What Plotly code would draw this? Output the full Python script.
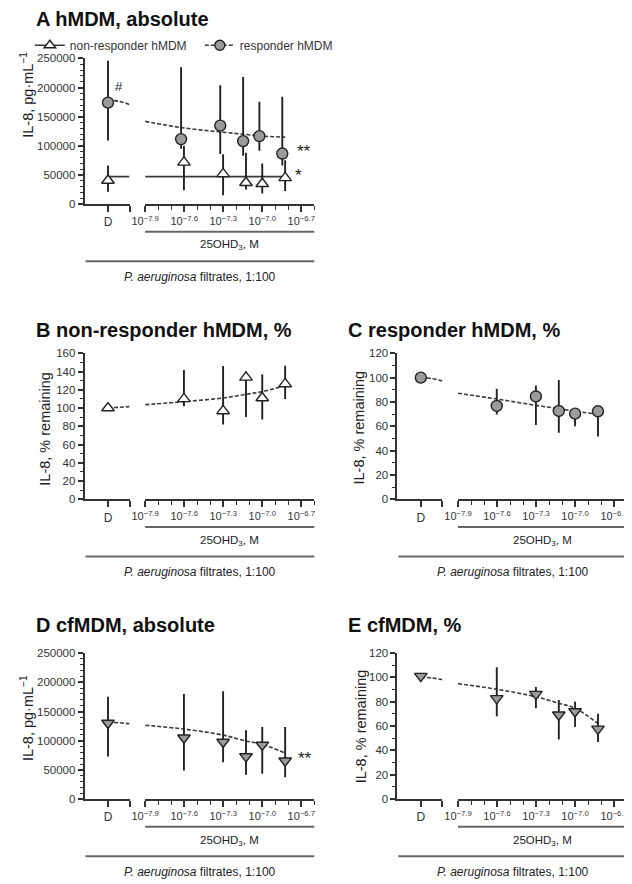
import plotly.graph_objects as go

W, H = 632, 884
OFF = 8  # default page body margin of the html page

# ---------------- data ----------------
dose_log = [-7.602, -7.301, -7.125, -7.0, -6.824]        # 25, 50, 75, 100, 150 nM
fit_log = [-7.9, -7.602, -7.301, -7.125, -7.0, -6.824]
fit_D_x = [1.0, 1.46, 1.92]
D_x = [1.0]
conc_tickvals = [-7.9, -7.6, -7.3, -7.0, -6.7]
conc_ticktext = ["10<sup>−7.9</sup>", "10<sup>−7.6</sup>", "10<sup>−7.3</sup>",
                 "10<sup>−7.0</sup>", "10<sup>−6.7</sup>"]

# Panel A: hMDM absolute (pg/mL)
a_non_D, a_non_D_hi, a_non_D_lo = [40500], [66000], [21000]
a_non = [71500, 51800, 36600, 34900, 45000]
a_non_hi = [100000, 85600, 88000, 69800, 75000]
a_non_lo = [23600, 15200, 25000, 18000, 22500]
a_non_fit_D = [47000, 47000, 47000]
a_non_fit = [47000, 47000, 47000, 47000, 47000, 47000]
a_res_D, a_res_D_hi, a_res_D_lo = [174000], [246000], [109000]
a_res = [111500, 134600, 108000, 116600, 86700]
a_res_hi = [234800, 203800, 218000, 175700, 184100]
a_res_lo = [95000, 85800, 83000, 91400, 66000]
a_res_fit_D = [178000, 176500, 171000]
a_res_fit = [141900, 130600, 123300, 119400, 116600, 114900]

# Panel B: non-responder hMDM, % remaining
b_D = [100]
b = [110, 96.8, 133.6, 111, 126.4]
b_hi = [141.6, 146, 140, 137, 146.3]
b_lo = [101.9, 82, 90.3, 87.4, 110]
b_fit_D = [100.3, 100.8, 101.5]
b_fit = [103.7, 107, 111, 115, 118, 124.6]

# Panel C: responder hMDM, % remaining
c_D = [100]
c = [76.7, 84.5, 72.6, 70.4, 72.3]
c_hi = [90.8, 93.5, 98, 74.5, 74]
c_lo = [69.6, 61, 54.7, 60.1, 51.5]
c_fit_D = [100, 99.2, 97.3]
c_fit = [87.2, 82.4, 77.2, 74.5, 72.3, 69.9]

# Panel D: cfMDM absolute (pg/mL)
d_D, d_D_hi, d_D_lo = [130300], [175300], [73000]
d = [105000, 97800, 73000, 92700, 65700]
d_hi = [179800, 184800, 118000, 123600, 123600]
d_lo = [48900, 62900, 41600, 43300, 37600]
d_fit_D = [131500, 130800, 129000]
d_fit = [126400, 120000, 109600, 99400, 93800, 78700]

# Panel E: cfMDM, % remaining
e_D = [101.1]
e = [82.8, 86.3, 69.3, 72, 57.7]
e_hi = [108.4, 92.2, 81.4, 80.1, 70.1]
e_lo = [68, 74.7, 49, 59.3, 46.9]
e_fit_D = [100.3, 99.6, 98.2]
e_fit = [94.9, 90.3, 84.1, 78.8, 74.7, 62]

# ---------------- style ----------------
FONT = "Arial, Liberation Sans, sans-serif"
AX = "#333333"
FITC = "#3a3a3a"
GRAYFILL = "#9b9b9b"
FW, FH = W - OFF, H - OFF


def px(x):
    return (x - OFF) / FW


def py(y):
    return 1 - (y - OFF) / FH


fig = go.Figure()

panels = {
    "A": dict(left=72, top=53, bottom=200.7, ymax=250000, dtick=50000, minor=10000),
    "B": dict(left=72, top=352, bottom=500, ymax=160, dtick=20, minor=10),
    "C": dict(left=392, top=352, bottom=500, ymax=120, dtick=20, minor=10),
    "D": dict(left=72, top=656, bottom=804, ymax=250000, dtick=50000, minor=10000),
    "E": dict(left=392, top=656, bottom=804, ymax=120, dtick=20, minor=10),
}
order = ["A", "B", "C", "D", "E"]
layout_axes = {}
for i, k in enumerate(order):
    p = panels[k]
    xd = 2 * i + 1
    xc = 2 * i + 2
    yi = i + 1
    p["xd"] = "x%d" % xd if xd > 1 else "x"
    p["xc"] = "x%d" % xc
    p["y"] = "y%d" % yi if yi > 1 else "y"
    L = p["left"]
    ydom = [py(p["bottom"]), py(p["top"])]
    layout_axes["xaxis%s" % (xd if xd > 1 else "")] = dict(
        domain=[px(L), px(L + 46)], range=[0, 1.92], anchor=p["y"],
        tickvals=[1, 1.92], ticktext=["D", ""], ticks="outside", ticklen=6,
        tickwidth=1.5, tickcolor=AX, showline=True, linecolor=AX, linewidth=1.8,
        showgrid=False, zeroline=False, fixedrange=True,
        tickfont=dict(family=FONT, size=12, color=AX))
    layout_axes["xaxis%d" % xc] = dict(
        domain=[px(L + 62), px(L + 235)], range=[-7.9, -6.6], anchor=p["y"],
        tickvals=conc_tickvals, ticktext=conc_ticktext, ticks="outside", ticklen=6,
        tickwidth=1.5, tickcolor=AX, showline=True, linecolor=AX, linewidth=1.8,
        showgrid=False, zeroline=False,
        minor=dict(tick0=-7.9, dtick=0.1, ticks="outside", ticklen=4,
                   tickwidth=1.2, tickcolor=AX, showgrid=False),
        tickfont=dict(family=FONT, size=11, color=AX))
    layout_axes["yaxis%s" % (yi if yi > 1 else "")] = dict(
        domain=ydom, range=[0, p["ymax"]], anchor=p["xd"], tickformat="d",
        dtick=p["dtick"], ticks="outside", ticklen=5, tickwidth=1.5, tickcolor=AX,
        showline=True, linecolor=AX, linewidth=1.8, showgrid=False, zeroline=False,
        minor=dict(dtick=p["minor"], ticks="outside", ticklen=3, tickwidth=1.2,
                   tickcolor=AX, showgrid=False),
        tickfont=dict(family=FONT, size=11.5, color=AX))


def fit_trace(p, xs, ys, dash, which):
    xa = p["xd"] if which == "D" else p["xc"]
    fig.add_trace(go.Scatter(x=xs, y=ys, mode="lines", xaxis=xa, yaxis=p["y"],
                             line=dict(color=FITC, width=1.6, dash=dash, shape="spline"),
                             showlegend=False, hoverinfo="skip", cliponaxis=False))


def pts(p, xs, ys, hi, lo, which, symbol, fill):
    xa = p["xd"] if which == "D" else p["xc"]
    err = None
    if hi is not None:
        err = dict(type="data", symmetric=False,
                   array=[h - v for h, v in zip(hi, ys)],
                   arrayminus=[v - l for v, l in zip(ys, lo)],
                   color="#222222", thickness=1.9, width=0)
    fig.add_trace(go.Scatter(x=xs, y=ys, mode="markers", xaxis=xa, yaxis=p["y"],
                             error_y=err, cliponaxis=False, showlegend=False,
                             marker=dict(symbol=symbol, size=11, color=fill,
                                         line=dict(color="#222222", width=1.4))))


A, B, C, D_, E = (panels[k] for k in order)
nudge = -0.022

# Panel A
fit_trace(A, fit_D_x, a_non_fit_D, "solid", "D")
fit_trace(A, fit_log, a_non_fit, "solid", "C")
fit_trace(A, fit_D_x, a_res_fit_D, "4px,2px", "D")
fit_trace(A, fit_log, a_res_fit, "4px,2px", "C")
pts(A, D_x, a_res_D, a_res_D_hi, a_res_D_lo, "D", "circle", GRAYFILL)
pts(A, [x + nudge for x in dose_log], a_res, a_res_hi, a_res_lo, "C", "circle", GRAYFILL)
pts(A, D_x, a_non_D, a_non_D_hi, a_non_D_lo, "D", "triangle-up", "white")
pts(A, dose_log, a_non, a_non_hi, a_non_lo, "C", "triangle-up", "white")

# Panel B
fit_trace(B, fit_D_x, b_fit_D, "4px,2px", "D")
fit_trace(B, fit_log, b_fit, "4px,2px", "C")
pts(B, D_x, b_D, None, None, "D", "triangle-up", "white")
pts(B, dose_log, b, b_hi, b_lo, "C", "triangle-up", "white")

# Panel C
fit_trace(C, fit_D_x, c_fit_D, "4px,2px", "D")
fit_trace(C, fit_log, c_fit, "4px,2px", "C")
pts(C, D_x, c_D, None, None, "D", "circle", GRAYFILL)
pts(C, dose_log, c, c_hi, c_lo, "C", "circle", GRAYFILL)

# Panel D
fit_trace(D_, fit_D_x, d_fit_D, "4px,2px", "D")
fit_trace(D_, fit_log, d_fit, "4px,2px", "C")
pts(D_, D_x, d_D, d_D_hi, d_D_lo, "D", "triangle-down", GRAYFILL)
pts(D_, dose_log, d, d_hi, d_lo, "C", "triangle-down", GRAYFILL)

# Panel E
fit_trace(E, fit_D_x, e_fit_D, "4px,2px", "D")
fit_trace(E, fit_log, e_fit, "4px,2px", "C")
pts(E, D_x, e_D, None, None, "D", "triangle-down", GRAYFILL)
pts(E, dose_log, e, e_hi, e_lo, "C", "triangle-down", GRAYFILL)

# legend entries (panel A)
fig.add_trace(go.Scatter(x=[None], y=[None], mode="lines+markers", name="non-responder hMDM",
                         line=dict(color=FITC, width=1.6),
                         marker=dict(symbol="triangle-up", size=10, color="white",
                                     line=dict(color="#222222", width=1.4))))
fig.add_trace(go.Scatter(x=[None], y=[None], mode="lines+markers", name="responder hMDM",
                         line=dict(color=FITC, width=1.6, dash="4px,2px"),
                         marker=dict(symbol="circle", size=10, color=GRAYFILL,
                                     line=dict(color="#222222", width=1.4))))

shapes = []
ann = []

titles = {"A": ("A hMDM, absolute", 20, 13), "B": ("B non-responder hMDM, %", 20, 328),
          "C": ("C responder hMDM, %", 339, 328), "D": ("D cfMDM, absolute", 20, 627),
          "E": ("E cfMDM, %", 339, 627)}
ytitles = {"A": ("IL-8, pg·mL<sup>−1</sup>", 13, 90), "B": ("IL-8, % remaining", 32, 428),
           "C": ("IL-8, % remaining", 353, 427), "D": ("IL-8, pg·mL<sup>−1</sup>", 13, 722),
           "E": ("IL-8, % remaining", 355, 730)}

for k in order:
    p = panels[k]
    L, bot = p["left"], p["bottom"]
    t, tx, ty = titles[k]
    ann.append(dict(text="<b>%s</b>" % t, x=px(tx), y=py(ty), xref="paper", yref="paper",
                    xanchor="left", yanchor="middle", showarrow=False,
                    font=dict(family=FONT, size=20, color="#111111")))
    yt, yx, yy = ytitles[k]
    ann.append(dict(text=yt, x=px(yx), y=py(yy), xref="paper", yref="paper",
                    xanchor="center", yanchor="middle", showarrow=False, textangle=-90,
                    font=dict(family=FONT, size=14.5, color="#222222")))
    shapes.append(dict(type="line", xref="paper", yref="paper",
                       x0=px(L + 62), x1=px(L + 235), y0=py(bot + 28), y1=py(bot + 28),
                       line=dict(color="#666666", width=2)))
    shapes.append(dict(type="line", xref="paper", yref="paper",
                       x0=px(L + 1), x1=px(L + 235), y0=py(bot + 58), y1=py(bot + 58),
                       line=dict(color="#666666", width=2)))
    ann.append(dict(text="25OHD<sub>3</sub>, M", x=px(L + 148.5), y=py(bot + 42),
                    xref="paper", yref="paper", xanchor="center", yanchor="middle",
                    showarrow=False, font=dict(family=FONT, size=11.5, color="#222222")))
    ann.append(dict(text="<i>P. aeruginosa</i> filtrates, 1:100", x=px(L + 118),
                    y=py(bot + 74), xref="paper", yref="paper", xanchor="center",
                    yanchor="middle", showarrow=False,
                    font=dict(family=FONT, size=12, color="#222222")))

for txt, x, y, s in [("#", 107, 82, 13), ("**", 296, 147, 17), ("*", 291, 172, 17),
                     ("**", 297, 763, 17)]:
    ann.append(dict(text=txt, x=px(x), y=py(y), xref="paper", yref="paper",
                    xanchor="center", yanchor="middle", showarrow=False,
                    font=dict(family=FONT, size=s, color="#222222")))

fig.update_layout(
    width=FW, height=FH, margin=dict(l=0, r=0, t=0, b=0),
    paper_bgcolor="white", plot_bgcolor="white",
    showlegend=True,
    legend=dict(orientation="h", x=px(16), y=py(25), xanchor="left", yanchor="top",
                font=dict(family=FONT, size=12, color="#333333"),
                entrywidth=125, entrywidthmode="pixels", bgcolor="rgba(0,0,0,0)",
                itemclick=False, itemdoubleclick=False),
    shapes=shapes, annotations=ann,
    **layout_axes,
)

fig.write_html("out.html")
